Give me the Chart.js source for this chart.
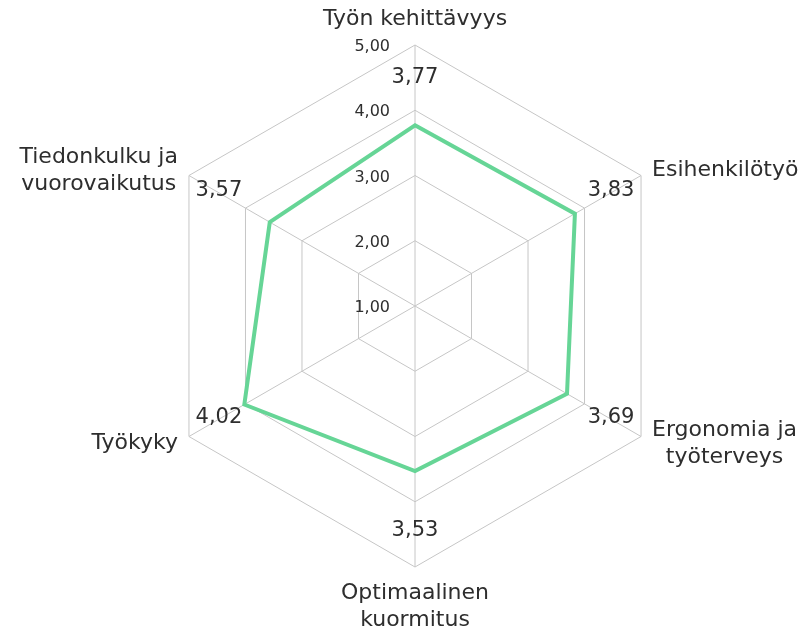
<!DOCTYPE html>
<html>
<head>
<meta charset="utf-8">
<script src="https://cdn.jsdelivr.net/npm/chart.js@4"></script>
<style>
  html, body { margin: 0; padding: 0; background: #fff; }
  #wrap { width: 809px; height: 634px; }
</style>
</head>
<body>
<div id="wrap"><canvas id="radar"></canvas></div>
<script>
const categories = [
  ['Työn kehittävyys'],
  ['Esihenkilötyö'],
  ['Ergonomia ja', 'työterveys'],
  ['Optimaalinen', 'kuormitus'],
  ['Työkyky'],
  ['Tiedonkulku ja', 'vuorovaikutus']
];
const scores = [3.77, 3.83, 3.69, 3.53, 4.02, 3.57];
const tickValues = [1, 2, 3, 4, 5];

const fmt = v => v.toFixed(2).replace('.', ',');
const FONT = '"DejaVu Sans", sans-serif';
const LINE_H = 27;

// scale numbers, scores and category names drawn on the canvas from the radial scale
const labelPlugin = {
  id: 'labels',
  afterDatasetsDraw(chart) {
    const r = chart.scales.r;
    const ctx = chart.ctx;
    ctx.save();
    ctx.fillStyle = '#2e2e2e';
    ctx.textBaseline = 'middle';

    ctx.font = '16px ' + FONT;
    ctx.textAlign = 'right';
    tickValues.forEach(v => {
      const p = r.getPointPositionForValue(0, v);
      ctx.fillText(fmt(v), p.x - 25, p.y + 2);
    });

    ctx.font = '21px ' + FONT;
    ctx.textAlign = 'center';
    scores.forEach((v, i) => {
      const p = r.getPointPositionForValue(i, 4.47);
      ctx.fillText(fmt(v), p.x, p.y - 2);
    });

    ctx.font = '22px ' + FONT;
    categories.forEach((lines, i) => {
      const p = r.getPointPositionForValue(i, r.max);
      const dx = p.x - r.xCenter;
      const dy = p.y - r.yCenter;
      const w = Math.max(...lines.map(t => ctx.measureText(t).width));
      const h = lines.length * LINE_H;
      let cx, cy;
      if (Math.abs(dx) < 1) {
        cx = p.x;
        cy = dy < 0 ? p.y - 12 - h / 2 : p.y + 13 + h / 2;
      } else {
        cx = dx > 0 ? p.x + 11 + w / 2 : p.x - 11 - w / 2;
        cy = dy < 0 ? p.y - 5 : p.y + 7;
      }
      lines.forEach((t, k) => {
        ctx.fillText(t, cx, cy - h / 2 + LINE_H * (k + 0.5));
      });
    });
    ctx.restore();
  }
};

new Chart(document.getElementById('radar'), {
  type: 'radar',
  data: {
    labels: categories,
    datasets: [{
      data: scores,
      borderColor: '#66d596',
      borderWidth: 4,
      fill: false,
      pointRadius: 0,
      pointHoverRadius: 0
    }]
  },
  options: {
    responsive: true,
    maintainAspectRatio: false,
    animation: false,
    layout: { padding: { top: 45, bottom: 67, left: 21, right: 0 } },
    plugins: { legend: { display: false }, tooltip: { enabled: false } },
    scales: {
      r: {
        min: 1,
        max: 5,
        ticks: { display: false, stepSize: 1 },
        grid: { color: '#c6c6c6', lineWidth: 1 },
        angleLines: { color: '#c6c6c6', lineWidth: 1 },
        pointLabels: { display: false }
      }
    }
  },
  plugins: [labelPlugin]
});
</script>
</body>
</html>
